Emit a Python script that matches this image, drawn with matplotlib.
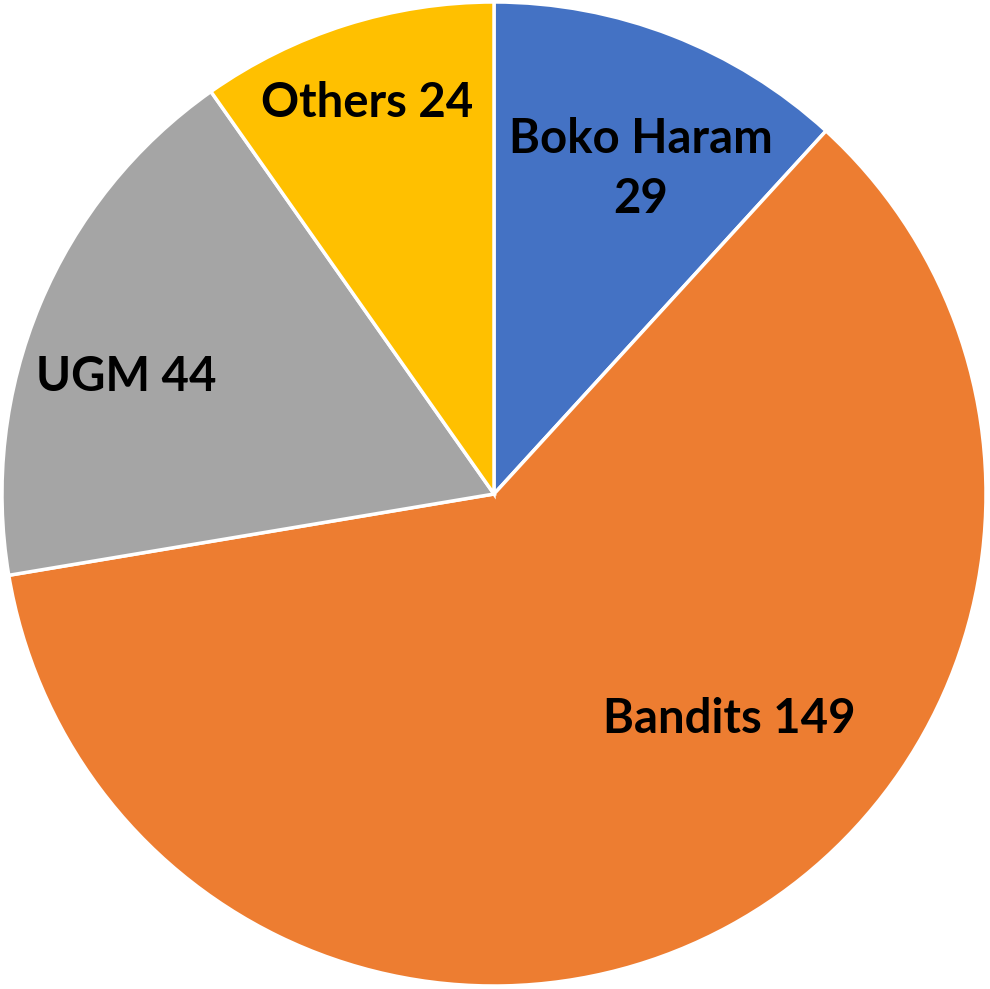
import matplotlib.pyplot as plt

groups = ['Boko Haram', 'Bandits', 'UGM', 'Others']
deaths = [29, 149, 44, 24]
colors = ['#4472C4', '#ED7D31', '#A5A5A5', '#FFC000']
label_text = ['Boko Haram\n29', 'Bandits 149', 'UGM 44', 'Others 24']
label_pos = [(0.298, 0.661), (0.478, -0.457), (-0.747, 0.237), (-0.257, 0.794)]

fig = plt.figure(figsize=(9.9, 9.89), dpi=100)
ax = fig.add_axes([0, 0, 1, 1])
ax.pie(deaths, colors=colors, startangle=90, counterclock=False, radius=1,
       wedgeprops={'edgecolor': 'white', 'linewidth': 2.5})
for txt, (x, y) in zip(label_text, label_pos):
    ax.text(x, y, txt, ha='center', va='center', fontsize=34, fontweight='bold',
            family='Lato', color='black', linespacing=1.45)
# pie centre at (494, 494) px, radius about 492 px
ax.set_xlim(-494 / 492, (990 - 494) / 492)
ax.set_ylim(-(989 - 494) / 492, 494 / 492)
ax.set_aspect('auto')
ax.axis('off')
fig.savefig('out.png')
